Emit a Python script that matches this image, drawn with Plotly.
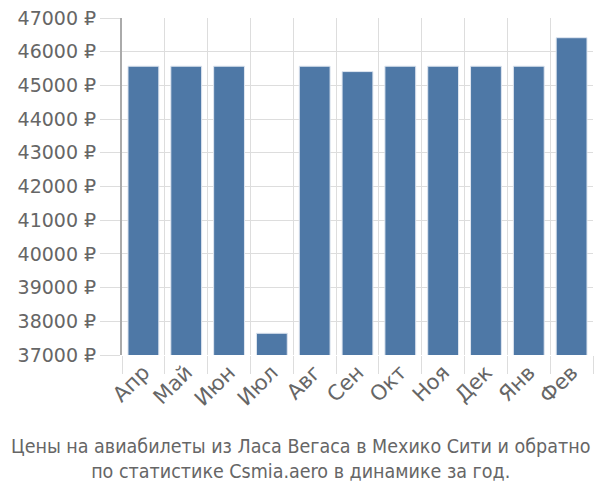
import plotly.graph_objects as go

months = ["Апр", "Май", "Июн", "Июл", "Авг", "Сен", "Окт", "Ноя", "Дек", "Янв", "Фев"]
prices = [45570, 45570, 45570, 37645, 45570, 45410, 45570, 45570, 45570, 45570, 46415]
y_ticks = [37000, 38000, 39000, 40000, 41000, 42000, 43000, 44000, 45000, 46000, 47000]
y_labels = [f"{v} ₽" for v in y_ticks]
title_lines = ["Цены на авиабилеты из Ласа Вегаса в Мехико Сити и обратно",
               "по статистике Csmia.aero в динамике за год."]

L, R = 122, 7
plot_w = 600 - L - R

fig = go.Figure(go.Bar(
    x=months, y=prices,
    marker=dict(color="#4e78a6", line=dict(color="#dfe6f0", width=1)),
))

fig.update_layout(
    width=600, height=500,
    margin=dict(l=L, r=R, t=14, b=145),
    paper_bgcolor="white", plot_bgcolor="white",
    bargap=0.28,
    showlegend=False,
    font=dict(family="DejaVu Sans, sans-serif", color="#666666"),
    annotations=[dict(
        text="<br>".join(title_lines), xref="paper", yref="paper",
        x=(300 - L) / plot_w, y=-0.31, xanchor="center", yanchor="middle",
        showarrow=False, font=dict(size=19.5, color="#666666",
                                   family="DejaVu Sans Condensed, DejaVu Sans, sans-serif"),
    )],
)
fig.update_xaxes(
    type="category", tickson="boundaries", showgrid=True, gridcolor="#dddddd", gridwidth=1,
    ticks="outside", ticklen=18, tickcolor="#dddddd", tickangle=-45,
    tickfont=dict(size=21, color="#666666"), showline=False, zeroline=False,
)
fig.update_yaxes(
    range=[37000, 47000], tickvals=y_ticks, ticktext=y_labels,
    showgrid=True, gridcolor="#dddddd", gridwidth=1,
    ticks="outside", ticklen=20, tickcolor="#dddddd",
    tickfont=dict(size=19, color="#666666"),
    showline=True, linecolor="#aaaaaa", linewidth=2, zeroline=False,
)
fig.write_html("out.html")
